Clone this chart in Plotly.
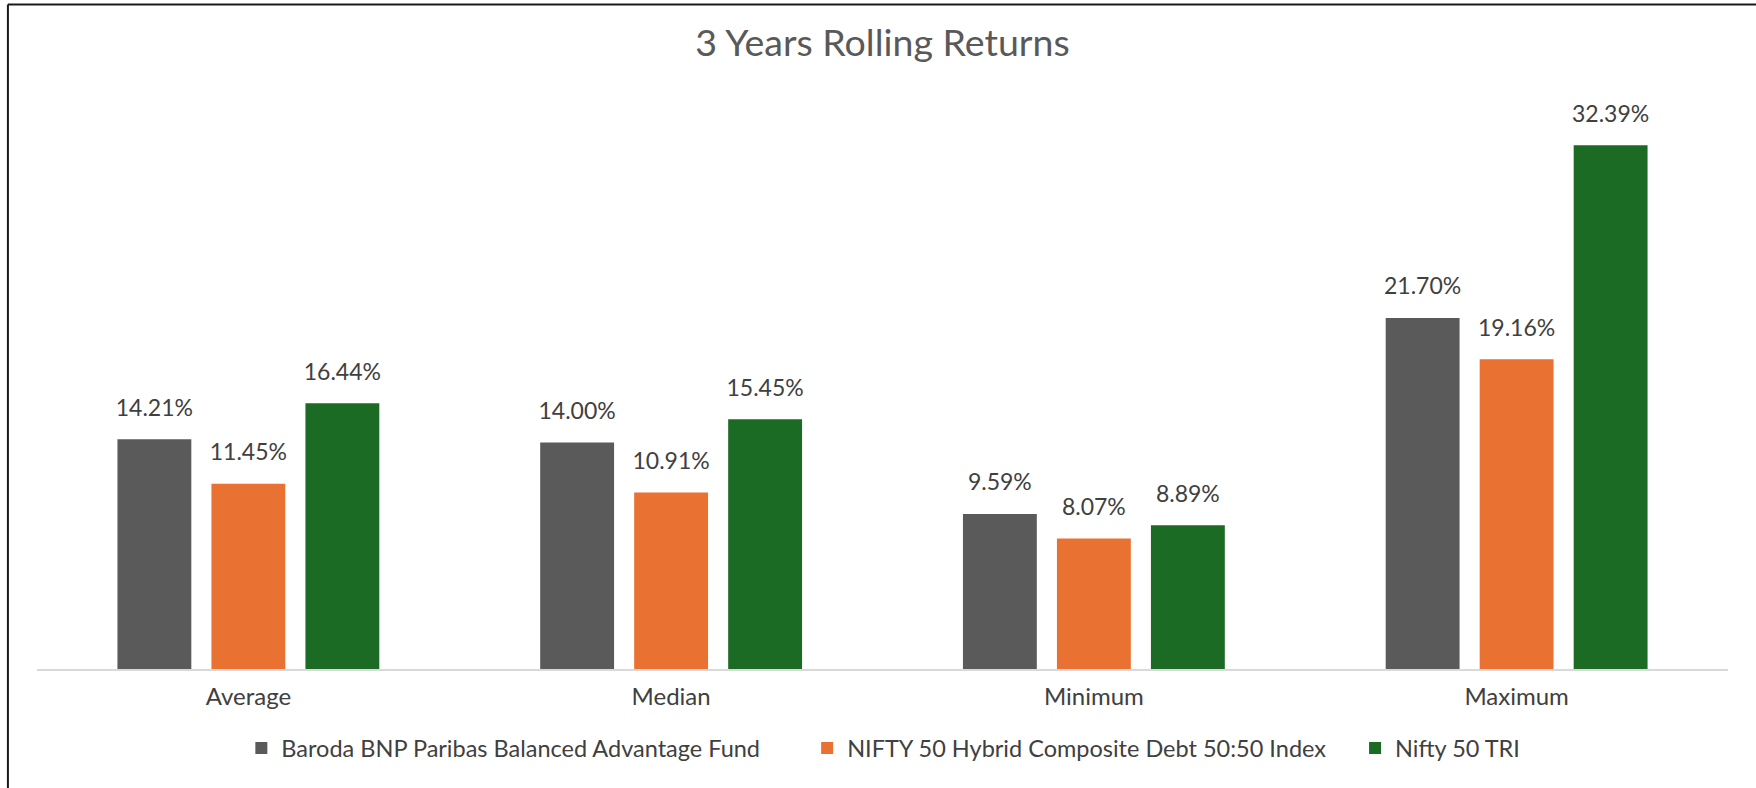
import plotly.graph_objects as go

categories = ["Average", "Median", "Minimum", "Maximum"]
series_names = [
    "Baroda BNP Paribas Balanced Advantage Fund",
    "NIFTY 50 Hybrid Composite Debt 50:50 Index",
    "Nifty 50 TRI",
]
fund_values = [14.21, 14.00, 9.59, 21.70]
hybrid_values = [11.45, 10.91, 8.07, 19.16]
nifty_values = [16.44, 15.45, 8.89, 32.39]
colors = ["#5A5A5A", "#E97132", "#1B6B24"]

FONT = "Lato"
TEXT = "#404040"
NBSP = "\u00a0"
legend_pads = [7, 4, 0]

fig = go.Figure()
all_vals = [fund_values, hybrid_values, nifty_values]
for i, (name, vals) in enumerate(zip(series_names, all_vals)):
    fig.add_trace(go.Bar(
        x=categories, y=vals, name=name + NBSP * legend_pads[i],
        marker=dict(color=colors[i], line=dict(width=0)),
        offsetgroup=str(i), hoverinfo="skip",
    ))
for i, (name, vals) in enumerate(zip(series_names, all_vals)):
    fig.add_trace(go.Scatter(
        x=categories, y=vals, mode="markers+text",
        marker=dict(size=27, color="rgba(0,0,0,0)"),
        text=[f"{v:.2f}%" for v in vals], textposition="top center",
        textfont=dict(family=FONT, size=23, color=TEXT),
        offsetgroup=str(i), showlegend=False, hoverinfo="skip",
        cliponaxis=False,
    ))

frame = dict(color="#1A1A1A", width=2)
fig.update_layout(
    width=1756, height=788,
    margin=dict(l=37, r=28, t=103, b=119, autoexpand=False),
    paper_bgcolor="white", plot_bgcolor="white",
    barmode="group", scattermode="group",
    bargap=0.333, bargroupgap=0.214, scattergap=0.333,
    title=dict(text="3 Years Rolling Returns", x=0.5, xref="paper",
               y=1 - 43 / 788, yanchor="middle",
               font=dict(family=FONT, size=37.5, color="#595959")),
    font=dict(family=FONT, color=TEXT),
    xaxis=dict(showline=True, linecolor="#D9D9D9", linewidth=2,
               ticks="", ticklabelstandoff=5,
               tickfont=dict(family=FONT, size=24, color=TEXT),
               showgrid=False, zeroline=False),
    yaxis=dict(range=[0, 35], visible=False, showgrid=False, zeroline=False),
    legend=dict(orientation="h", x=0.5005, xanchor="center", y=-0.14,
                yanchor="middle", font=dict(family=FONT, size=23.5, color=TEXT),
                itemwidth=30),
    shapes=[
        dict(type="line", xref="paper", yref="paper",
             x0=-0.0172, x1=1.05, y0=1.174, y1=1.174, line=frame),
        dict(type="line", xref="paper", yref="paper",
             x0=-0.0172, x1=-0.0172, y0=-0.3, y1=1.174, line=frame),
    ],
)

fig.write_html("out.html", config={"displayModeBar": False},
               post_script="document.body.style.margin='0';document.body.style.overflow='hidden';")
